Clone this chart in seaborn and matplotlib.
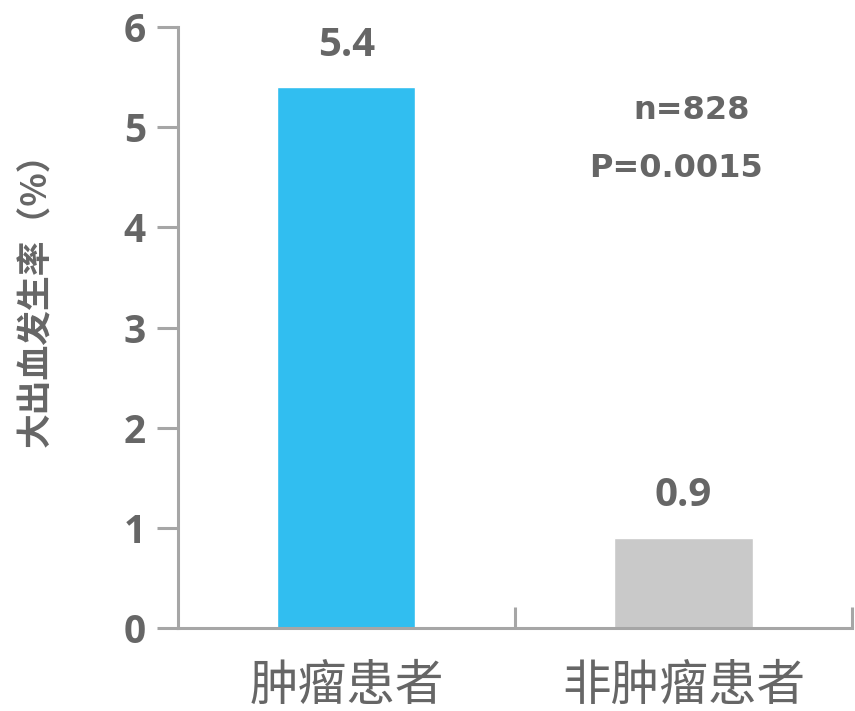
import pandas as pd
import matplotlib
matplotlib.use("Agg")
import matplotlib.pyplot as plt
import seaborn as sns

groups = ["肿瘤患者", "非肿瘤患者"]
rates = [5.4, 0.9]
bar_colors = ["#31BEF0", "#C9C9C9"]
y_ticks = [0, 1, 2, 3, 4, 5, 6]
note_n = "n=828"
note_p = "P=0.0015"

df = pd.DataFrame({"group": groups, "rate": rates})

sns.set_theme(style="white")
plt.rcParams["font.family"] = ["Noto Sans CJK SC", "DejaVu Sans"]

TXT = "#666666"
AX = "#A6A6A6"

fig = plt.figure(figsize=(8.55, 7.11), dpi=100)
ax = fig.add_axes([0.208, 0.1167, 0.7885, 0.8453])

sns.barplot(data=df, x="group", y="rate", hue="group", palette=bar_colors,
            width=0.41, legend=False, ax=ax, saturation=1)

ax.set_xlim(-0.5, 1.5)
ax.set_ylim(0, 6)
ax.set_yticks(y_ticks)
ax.set_yticklabels([str(t) for t in y_ticks], fontsize=28, fontweight="bold",
                   color=TXT, family="Open Sans")
ax.set_xticks(range(len(groups)))
ax.set_xticklabels(groups, fontsize=35, color=TXT)
ax.tick_params(axis="x", which="major", length=0, pad=24)
ax.set_xticks([0.5, 1.5], minor=True)
ax.tick_params(axis="x", which="minor", bottom=True, direction="in",
               length=15, width=2.2, color=AX)
ax.tick_params(axis="y", direction="out", length=15, width=2.2, color=AX,
               pad=8, left=True)

ax.set_xlabel("")
ax.set_ylabel("大出血发生率（%）", fontsize=25, fontweight="bold", color=TXT)
ax.yaxis.set_label_coords(-0.185, 0.56)

for s in ["top", "right"]:
    ax.spines[s].set_visible(False)
for s in ["left", "bottom"]:
    ax.spines[s].set_color(AX)
    ax.spines[s].set_linewidth(2.2)

for i, v in enumerate(rates):
    ax.text(i, v + 0.42, f"{v}", ha="center", va="center", fontsize=29,
            fontweight="bold", color=TXT, family="Open Sans")

ax.text(1.025, 5.17, note_n, ha="center", va="center", fontsize=23,
        fontweight="bold", color=TXT, family="DejaVu Sans")
ax.text(0.978, 4.59, note_p, ha="center", va="center", fontsize=23,
        fontweight="bold", color=TXT, family="DejaVu Sans")

fig.savefig("out.png", dpi=100, facecolor="white")
